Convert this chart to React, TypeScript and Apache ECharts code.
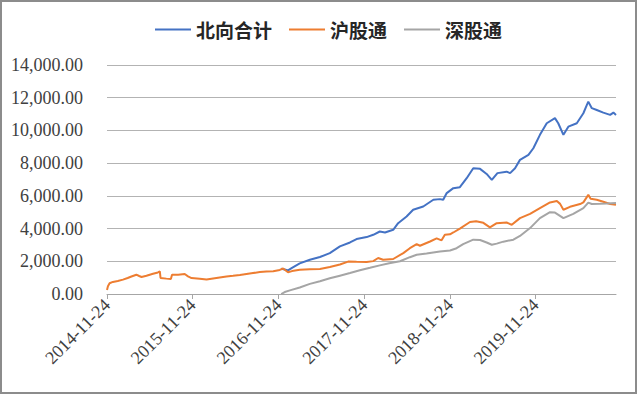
import React, { useEffect, useRef } from "react";
import * as echarts from "echarts";

const seriesNames = ["北向合计", "沪股通", "深股通"];
const seriesColors = ["#4472C4", "#ED7D31", "#A5A5A5"];

const tickDates = ["2014-11-24", "2015-11-24", "2016-11-24", "2017-11-24", "2018-11-24", "2019-11-24"];
const axisStart = "2014-11-24";
const axisEnd = "2020-10-31";
const yTicks = [0, 2000, 4000, 6000, 8000, 10000, 12000, 14000];

const northTotal: [string, number][] = [
  ["2016-12-05", 1545], ["2016-12-20", 1500], ["2017-01-03", 1440], ["2017-01-20", 1600],
  ["2017-02-22", 1870], ["2017-04-06", 2090], ["2017-05-19", 2260], ["2017-06-30", 2500],
  ["2017-08-12", 2910], ["2017-09-24", 3150], ["2017-10-22", 3360], ["2017-12-04", 3480],
  ["2018-01-01", 3620], ["2018-01-29", 3820], ["2018-02-20", 3760], ["2018-03-27", 3925],
  ["2018-04-17", 4330], ["2018-05-23", 4740], ["2018-06-20", 5150], ["2018-08-02", 5350],
  ["2018-09-14", 5760], ["2018-10-12", 5800], ["2018-10-26", 5760], ["2018-11-10", 6170],
  ["2018-12-08", 6470], ["2019-01-05", 6530], ["2019-02-03", 7080], ["2019-03-03", 7690],
  ["2019-04-01", 7650], ["2019-04-29", 7340], ["2019-05-21", 6980], ["2019-06-14", 7390],
  ["2019-07-23", 7480], ["2019-08-07", 7390], ["2019-08-28", 7690], ["2019-09-18", 8200],
  ["2019-10-24", 8500], ["2019-11-14", 8910], ["2019-12-12", 9730], ["2020-01-10", 10440],
  ["2020-02-14", 10750], ["2020-02-28", 10440], ["2020-03-21", 9730], ["2020-04-11", 10230],
  ["2020-05-17", 10440], ["2020-06-14", 11050], ["2020-06-29", 11560], ["2020-07-05", 11760],
  ["2020-07-20", 11360], ["2020-08-10", 11250], ["2020-09-07", 11090], ["2020-10-06", 10950],
  ["2020-10-20", 11090], ["2020-10-31", 10950],
];

const shanghai: [string, number][] = [
  ["2014-11-24", 250], ["2014-11-28", 480], ["2014-12-05", 660], ["2014-12-19", 740],
  ["2015-01-09", 800], ["2015-01-31", 880], ["2015-02-20", 980], ["2015-03-08", 1070],
  ["2015-03-29", 1180], ["2015-04-10", 1100], ["2015-04-20", 1040], ["2015-05-11", 1120],
  ["2015-05-25", 1180], ["2015-06-08", 1240], ["2015-06-29", 1320], ["2015-07-07", 1380],
  ["2015-07-10", 980], ["2015-08-04", 940], ["2015-08-23", 915], ["2015-08-28", 1180],
  ["2015-09-23", 1170], ["2015-10-21", 1220], ["2015-11-04", 1080], ["2015-11-19", 975],
  ["2015-12-24", 935], ["2016-01-22", 880], ["2016-02-19", 950], ["2016-03-18", 1010],
  ["2016-04-16", 1070], ["2016-05-14", 1110], ["2016-06-12", 1160], ["2016-07-10", 1220],
  ["2016-08-07", 1280], ["2016-09-05", 1340], ["2016-10-03", 1380], ["2016-11-01", 1390],
  ["2016-11-29", 1470], ["2016-12-13", 1560], ["2017-01-03", 1330], ["2017-01-20", 1400],
  ["2017-02-22", 1480], ["2017-04-06", 1520], ["2017-05-19", 1530], ["2017-06-30", 1650],
  ["2017-08-12", 1800], ["2017-09-16", 1980], ["2017-10-22", 1970], ["2017-12-04", 1960],
  ["2018-01-01", 2010], ["2018-01-22", 2200], ["2018-02-12", 2090], ["2018-03-27", 2140],
  ["2018-05-09", 2500], ["2018-06-06", 2800], ["2018-07-05", 3050], ["2018-07-19", 2950],
  ["2018-08-31", 3210], ["2018-09-28", 3400], ["2018-10-19", 3280], ["2018-11-02", 3620],
  ["2018-11-24", 3650], ["2018-12-08", 3760], ["2019-01-05", 4000], ["2019-02-17", 4400],
  ["2019-03-15", 4450], ["2019-04-15", 4350], ["2019-05-13", 4070], ["2019-06-11", 4330],
  ["2019-07-23", 4370], ["2019-08-14", 4230], ["2019-09-18", 4640], ["2019-10-31", 4900],
  ["2019-12-12", 5250], ["2020-01-24", 5600], ["2020-02-22", 5680], ["2020-03-07", 5510],
  ["2020-03-21", 5150], ["2020-04-18", 5330], ["2020-05-31", 5500], ["2020-06-14", 5600],
  ["2020-07-05", 6060], ["2020-07-15", 5820], ["2020-08-10", 5760], ["2020-09-07", 5640],
  ["2020-10-06", 5500], ["2020-10-31", 5450],
];

const shenzhen: [string, number][] = [
  ["2016-12-05", 0], ["2016-12-20", 120], ["2017-01-11", 220], ["2017-02-22", 400],
  ["2017-04-06", 620], ["2017-05-19", 780], ["2017-06-30", 960], ["2017-08-12", 1120],
  ["2017-09-24", 1280], ["2017-11-05", 1450], ["2017-12-18", 1600], ["2018-01-29", 1750],
  ["2018-03-10", 1880], ["2018-04-25", 2000], ["2018-06-06", 2250], ["2018-07-05", 2400],
  ["2018-08-16", 2480], ["2018-10-12", 2600], ["2018-11-24", 2660], ["2018-12-22", 2800],
  ["2019-01-19", 3050], ["2019-03-03", 3320], ["2019-04-01", 3300], ["2019-04-29", 3150],
  ["2019-05-21", 3010], ["2019-06-11", 3080], ["2019-07-09", 3200], ["2019-08-21", 3320],
  ["2019-09-18", 3550], ["2019-10-31", 4030], ["2019-12-12", 4640], ["2020-01-24", 5000],
  ["2020-02-14", 4980], ["2020-03-21", 4640], ["2020-05-02", 4900], ["2020-06-14", 5250],
  ["2020-07-05", 5590], ["2020-07-20", 5500], ["2020-08-24", 5510], ["2020-09-22", 5530],
  ["2020-10-31", 5560],
];

const toTime = (s: string) => {
  const [y, m, d] = s.split("-").map(Number);
  return new Date(y, m - 1, d).getTime();
};
const pad = (n: number) => (n < 10 ? "0" + n : "" + n);
const fmtDate = (v: number) => {
  const d = new Date(v);
  return `${d.getFullYear()}-${pad(d.getMonth() + 1)}-${pad(d.getDate())}`;
};

export default function App() {
  const ref = useRef<HTMLDivElement>(null);
  useEffect(() => {
    if (!ref.current) return;
    const chart = echarts.init(ref.current, undefined, { renderer: "svg" });
    const allData = [northTotal, shanghai, shenzhen];
    const ticks = tickDates.map(toTime);
    chart.setOption({
      animation: false,
      backgroundColor: "#ffffff",
      graphic: [
        {
          type: "rect",
          shape: { x: 1, y: 1, width: 635, height: 392 },
          style: { fill: "none", stroke: "#8c8c8c", lineWidth: 2 },
          silent: true,
        },
      ],
      legend: {
        left: 150,
        top: 15,
        itemWidth: 36,
        itemHeight: 2,
        itemGap: 17,
        icon: "rect",
        data: seriesNames,
        textStyle: {
          fontFamily: "Noto Sans CJK SC",
          fontSize: 19,
          fontWeight: "bold",
          color: "#262626",
        },
      },
      grid: { left: 107, right: 24, top: 65, bottom: 101, containLabel: false },
      xAxis: {
        type: "value",
        min: toTime(axisStart),
        max: toTime(axisEnd),
        splitLine: { show: false },
        axisLine: { show: true, lineStyle: { color: "#a6a6a6", width: 1 } },
        axisTick: {
          show: true,
          customValues: ticks,
          length: 5,
          lineStyle: { color: "#a6a6a6" },
        },
        axisLabel: {
          customValues: ticks,
          rotate: 45,
          margin: 8,
          fontFamily: "Liberation Serif",
          fontSize: 18,
          color: "#404040",
          formatter: (v: number) => fmtDate(v),
        },
      },
      yAxis: {
        type: "value",
        min: yTicks[0],
        max: yTicks[yTicks.length - 1],
        interval: 2000,
        axisLine: { show: false },
        axisTick: { show: false },
        splitLine: { lineStyle: { color: "#b3b3b3", width: 1 } },
        axisLabel: {
          margin: 24,
          fontFamily: "Liberation Serif",
          fontSize: 18,
          color: "#404040",
          formatter: (v: number) =>
            v.toLocaleString("en-US", { minimumFractionDigits: 2, maximumFractionDigits: 2 }),
        },
      },
      series: seriesNames.map((name, i) => ({
        name,
        type: "line",
        showSymbol: false,
        symbol: "none",
        data: allData[i].map(([d, v]) => [toTime(d), v]),
        lineStyle: { color: seriesColors[i], width: 2 },
        itemStyle: { color: seriesColors[i] },
      })),
    });
    return () => chart.dispose();
  }, []);
  return (
    <div
      ref={ref}
      style={{ position: "absolute", left: 0, top: 0, width: 640, height: 395 }}
    />
  );
}
